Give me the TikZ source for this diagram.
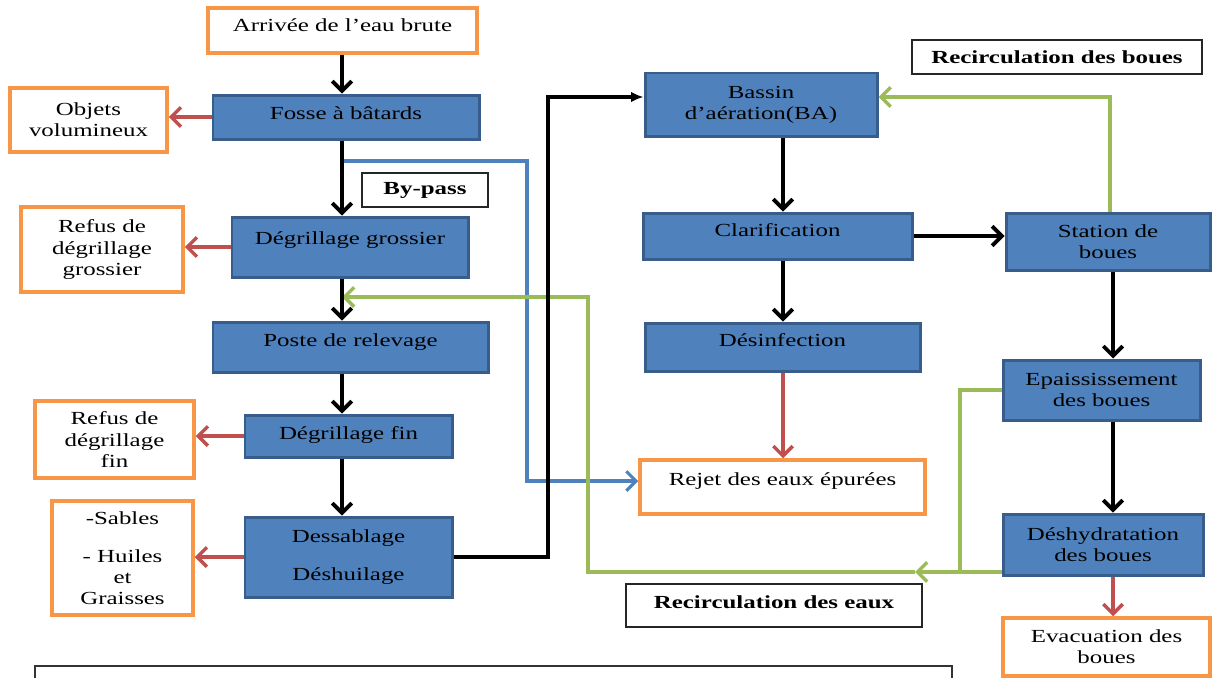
\documentclass[tikz,border=0pt]{standalone}
\usepackage{fontspec}
\setmainfont{Liberation Serif}[FakeStretch=1.35]
\usetikzlibrary{arrows.meta}
\definecolor{procfill}{HTML}{4F81BD}
\definecolor{procedge}{HTML}{385D8A}
\definecolor{outedge}{HTML}{F79646}
\definecolor{wastered}{HTML}{C0504D}
\definecolor{recgreen}{HTML}{9BBB59}
\definecolor{bypassblue}{HTML}{4F81BD}
\newcommand{\pxu}{0.02cm}

\begin{document}
\begin{tikzpicture}[x=0.02cm, y=-0.02cm,
    base/.style={font=\fontsize{10.5}{12}\selectfont, align=center, inner sep=2pt},
    proc/.style={base, fill=procfill, draw=procedge, line width=1.7pt},
    outlet/.style={base, fill=white, draw=outedge, line width=2pt},
    tag/.style={base, font=\fontsize{10.5}{12}\selectfont\bfseries, draw=black!85, line width=0.9pt},
    boxsize/.style 2 args={minimum width=#1*\pxu, minimum height=#2*\pxu},
    lift/.style={text height=7pt, text depth=#1},
    flow/.style={line width=2.2pt, -{Straight Barb[length=5.5pt,width=11pt]}},
    waste/.style={flow, wastered, line width=2pt},
    recirc/.style={flow, recgreen, line width=2pt},
    bypass/.style={flow, bypassblue, line width=1.8pt}]
    \useasboundingbox (0,0) rectangle (1216,677);
    \clip (0,0) rectangle (1216,677);

    % file d'eau
    \node[outlet, boxsize={269}{45}, lift=6.3pt] (arrivee) at (342.5,30.5) {Arrivée de l’eau brute};
    \node[proc, boxsize={266}{44}, lift=4.6pt] (fosse) at (346,117) {Fosse à bâtards};
    \node[outlet, boxsize={157}{64}] (objets) at (88.5,120) {Objets\\volumineux};
    \node[tag, boxsize={126}{34}] (bypasstag) at (425,190) {By-pass};
    \node[proc, boxsize={236}{60}, lift=10.3pt] (degrg) at (350,247) {Dégrillage grossier};
    \node[outlet, boxsize={162}{85}] (refusg) at (102,249.5) {Refus de\\dégrillage\\grossier};
    \node[proc, boxsize={275}{50}, lift=8pt] (poste) at (350.5,347) {Poste de relevage};
    \node[proc, boxsize={207}{42}, lift=3.4pt] (degrf) at (348.5,436) {Dégrillage fin};
    \node[outlet, boxsize={159}{77}] (refusf) at (114.5,439.5) {Refus de\\dégrillage\\fin};
    \node[proc, boxsize={207}{80}] (dessab) at (348.5,557) {Dessablage\\[9.6pt]Déshuilage};
    \node[outlet, boxsize={141}{114}] (sables) at (122.5,558) {-Sables\\[9.6pt]- Huiles\\et\\Graisses};

    \node[proc, boxsize={232}{63}] (bassin) at (761,104.5) {Bassin\\d’aération(BA)};
    \node[proc, boxsize={269}{46}, lift=6.8pt] (clarif) at (777.5,236) {Clarification};
    \node[proc, boxsize={275}{48}, lift=8pt] (desinf) at (782.5,347) {Désinfection};
    \node[outlet, boxsize={285}{54}, lift=9.1pt] (rejet) at (782.5,487) {Rejet des eaux épurées};

    % file de boues
    \node[proc, boxsize={204}{57}] (station) at (1108,241.5) {Station de\\boues};
    \node[proc, boxsize={197}{60}] (epais) at (1101.5,390) {Epaississement\\des boues};
    \node[proc, boxsize={200}{61}] (deshy) at (1103,544.5) {Déshydratation\\des boues};
    \node[outlet, boxsize={207}{58}] (evac) at (1106.5,647) {Evacuation des\\boues};

    \node[tag, boxsize={290}{34}] (recboues) at (1057,57) {Recirculation des boues};
    \node[tag, boxsize={296}{43}, lift=4pt] (receaux) at (774,605.5) {Recirculation des eaux};
    \draw[black!80, line width=0.9pt] (35,666) rectangle (952,720);

    \coordinate (axis) at (342,0);
    \coordinate (midaxis) at (783,0);
    \coordinate (sludgeaxis) at (1113,0);
    \coordinate (upjog) at (548,97);
    \coordinate (bpstart) at (342,161);
    \coordinate (bpdown) at (527,481);
    \coordinate (wjoin) at (960,572);
    \coordinate (wtip) at (915,572);
    \coordinate (wcorner) at (588,297);
    \coordinate (sreturn) at (1110,97);

    % by-pass et recirculations
    \draw[bypass] (bpstart) -| (bpdown) -- (bpdown -| rejet.west);
    \draw[recirc] (epais.west) -| (wjoin) -- (wtip);
    \draw[recgreen, line width=2pt] (deshy.west |- wjoin) -- (wjoin);
    \draw[recirc] (wtip) -| (wcorner) -- (wcorner -| axis);
    \draw[recirc] (station.north -| sreturn) |- (sreturn -| bassin.east);

    % pretraitement
    \draw[flow] (arrivee.south -| axis) -- (fosse.north -| axis);
    \foreach \a/\b in {fosse/degrg, degrg/poste, poste/degrf, degrf/dessab}
        \draw[flow] (\a.south -| axis) -- (\b.north -| axis);
    \foreach \a/\b in {fosse/objets, degrg/refusg, degrf/refusf, dessab/sables}
        \draw[waste] (\a.west) -- (\a.west -| \b.east);
    \draw[line width=2pt, -{Latex[length=7pt,width=6pt]}] (dessab.east) -| (upjog) -- (upjog -| bassin.west);

    % traitement biologique
    \draw[flow] (bassin.south -| midaxis) -- (clarif.north -| midaxis);
    \draw[flow] (clarif.south -| midaxis) -- (desinf.north -| midaxis);
    \draw[waste] (desinf.south -| midaxis) -- (rejet.north -| midaxis);
    \draw[flow] (clarif.east) -- (clarif.east -| station.west);
    \draw[flow] (station.south -| sludgeaxis) -- (epais.north -| sludgeaxis);
    \draw[flow] (epais.south -| sludgeaxis) -- (deshy.north -| sludgeaxis);
    \draw[waste] (deshy.south -| sludgeaxis) -- (evac.north -| sludgeaxis);
\end{tikzpicture}
\end{document}
